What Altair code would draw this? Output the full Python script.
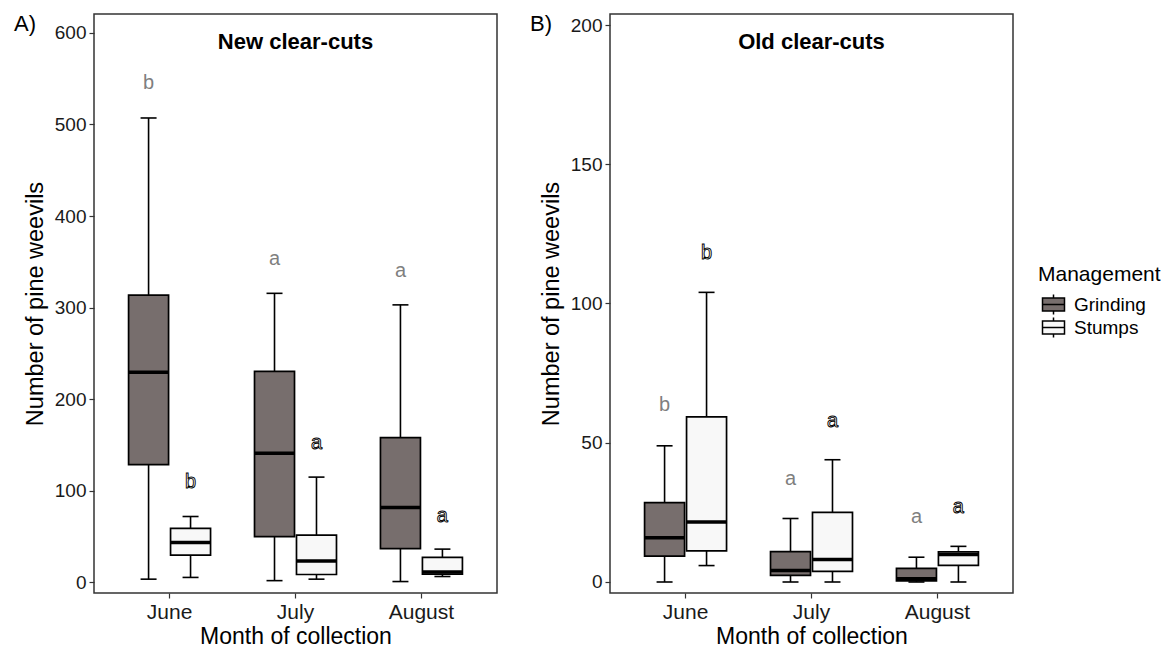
import altair as alt
import pandas as pd

months = ["June", "July", "August"]
managements = ["Grinding", "Stumps"]

# Panel A: New clear-cuts (box statistics)
a_grind_min = [3.6, 2.0, 1.0]
a_grind_q1 = [128.7, 50.0, 37.0]
a_grind_med = [229.5, 141.0, 81.8]
a_grind_q3 = [313.7, 230.5, 158.0]
a_grind_max = [507.0, 315.6, 303.0]
a_stump_min = [5.5, 3.6, 6.5]
a_stump_q1 = [29.8, 8.7, 9.0]
a_stump_med = [43.6, 23.3, 11.3]
a_stump_q3 = [59.0, 51.6, 27.3]
a_stump_max = [72.0, 115.0, 36.4]
a_grind_letters = ["b", "a", "a"]
a_grind_letter_y = [545, 353, 340]
a_stump_letters = ["b", "a", "a"]
a_stump_letter_y = [110, 152, 73]

# Panel B: Old clear-cuts
b_grind_min = [0.0, 0.0, 0.0]
b_grind_q1 = [9.3, 2.4, 0.4]
b_grind_med = [15.9, 4.1, 1.2]
b_grind_q3 = [28.5, 10.9, 4.9]
b_grind_max = [48.9, 22.8, 8.9]
b_stump_min = [5.9, 0.0, 0.0]
b_stump_q1 = [11.2, 3.8, 6.0]
b_stump_med = [21.5, 8.1, 9.9]
b_stump_q3 = [59.3, 25.0, 10.8]
b_stump_max = [104.0, 43.9, 12.8]
b_grind_letters = ["b", "a", "a"]
b_grind_letter_y = [63.4, 37.0, 23.2]
b_stump_letters = ["b", "a", "a"]
b_stump_letter_y = [118.3, 57.9, 27.0]

colors = ["#776E6D", "#F8F8F8"]
FONT = "Liberation Sans"


def stats_frame(gmin, gq1, gmed, gq3, gmax, smin, sq1, smed, sq3, smax):
    rows = []
    for i, m in enumerate(months):
        rows.append(dict(Month=m, Management="Grinding", lo=gmin[i], q1=gq1[i],
                         med=gmed[i], q3=gq3[i], hi=gmax[i]))
        rows.append(dict(Month=m, Management="Stumps", lo=smin[i], q1=sq1[i],
                         med=smed[i], q3=sq3[i], hi=smax[i]))
    return pd.DataFrame(rows)


def letter_frame(gl, gy, sl, sy):
    rows = []
    for i, m in enumerate(months):
        rows.append(dict(Month=m, Management="Grinding", letter=gl[i], y=gy[i]))
        rows.append(dict(Month=m, Management="Stumps", letter=sl[i], y=sy[i]))
    return pd.DataFrame(rows)


def panel(stats, letters, domain, ticks, title, tag):
    x = alt.X("Month:N", sort=months,
              scale=alt.Scale(domain=months, paddingInner=0, paddingOuter=0.1),
              axis=alt.Axis(title="Month of collection", labelAngle=0))
    xo = alt.XOffset("Management:N",
                     scale=alt.Scale(domain=managements, paddingInner=0, paddingOuter=0.5))
    yscale = alt.Scale(domain=domain, nice=False, zero=False)
    yaxis = alt.Axis(title="Number of pine weevils", values=ticks)

    base = alt.Chart(stats)
    whisker = base.mark_rule(color="black", strokeWidth=1.6).encode(
        x=x, xOffset=xo, y=alt.Y("lo:Q", scale=yscale, axis=yaxis), y2="hi:Q")
    caps_lo = base.mark_tick(color="black", size=16, thickness=1.6, opacity=1).encode(
        x=x, xOffset=xo, y="lo:Q")
    caps_hi = base.mark_tick(color="black", size=16, thickness=1.6, opacity=1).encode(
        x=x, xOffset=xo, y="hi:Q")
    box = base.mark_bar(width=40, stroke="black", strokeWidth=1.7, opacity=1).encode(
        x=x, xOffset=xo, y="q1:Q", y2="q3:Q",
        color=alt.Color("Management:N",
                        scale=alt.Scale(domain=managements, range=colors),
                        legend=alt.Legend(
                            title="Management",
                            symbolType="M-1,-1.32H3.4V1.32H-1Z M-1,0H3.4 M1.2,-1.32V-2 M1.2,1.32V2",
                            symbolStrokeColor="black", symbolStrokeWidth=1.5,
                            symbolSize=100, symbolOpacity=1,
                            orient="none", legendX=944, legendY=250)))
    median = base.mark_tick(color="black", size=40, thickness=3.5, opacity=1).encode(
        x=x, xOffset=xo, y="med:Q")

    lt = alt.Chart(letters)
    g_letters = lt.transform_filter(alt.datum.Management == "Grinding").mark_text(
        fontSize=20, font=FONT, color="#7F7F7F", baseline="middle", opacity=1).encode(
        x=x, xOffset=xo, y="y:Q", text="letter:N")
    s_letters = lt.transform_filter(alt.datum.Management == "Stumps").mark_text(
        fontSize=20, font=FONT, color="white", fill="white", stroke="black",
        strokeWidth=0.9, baseline="middle", opacity=1).encode(
        x=x, xOffset=xo, y="y:Q", text="letter:N")

    tag_layer = alt.Chart(pd.DataFrame({"t": [tag]})).mark_text(
        fontSize=22, font=FONT, align="left", baseline="top", color="black").encode(
        text="t:N", x=alt.value(-80), y=alt.value(0))
    title_layer = alt.Chart(pd.DataFrame({"t": [title]})).mark_text(
        fontSize=22, font=FONT, fontWeight="bold", align="center",
        baseline="alphabetic", color="black").encode(
        text="t:N", x=alt.value(201.5), y=alt.value(35))

    return alt.layer(whisker, caps_lo, caps_hi, box, median, g_letters, s_letters,
                     tag_layer, title_layer).properties(width=403, height=579)


statsA = stats_frame(a_grind_min, a_grind_q1, a_grind_med, a_grind_q3, a_grind_max,
                     a_stump_min, a_stump_q1, a_stump_med, a_stump_q3, a_stump_max)
statsB = stats_frame(b_grind_min, b_grind_q1, b_grind_med, b_grind_q3, b_grind_max,
                     b_stump_min, b_stump_q1, b_stump_med, b_stump_q3, b_stump_max)
lettersA = letter_frame(a_grind_letters, a_grind_letter_y, a_stump_letters, a_stump_letter_y)
lettersB = letter_frame(b_grind_letters, b_grind_letter_y, b_stump_letters, b_stump_letter_y)

pA = panel(statsA, lettersA, [-11.5, 620.5], [0, 100, 200, 300, 400, 500, 600],
           "New clear-cuts", "A)")
pB = panel(statsB, lettersB, [-3.95, 203.95], [0, 50, 100, 150, 200],
           "Old clear-cuts", "B)")

chart = alt.hconcat(pA, pB, spacing=31).resolve_scale(y="independent").configure(
    padding={"left": 5, "top": 4, "right": 0, "bottom": 0},
    font=FONT,
).configure_view(
    stroke="#333333", strokeWidth=1.5
).configure_axis(
    grid=False, domain=False, tickColor="#333333", tickSize=5, tickWidth=1.2,
    labelFont=FONT, titleFont=FONT, labelColor="#1A1A1A", titleColor="black",
    titleFontWeight="normal", labelPadding=3,
).configure_axisY(
    labelFontSize=19, titleFontSize=23.5, titlePadding=7,
).configure_axisX(
    labelFontSize=21, titleFontSize=23, titlePadding=3,
).configure_legend(
    titleFont=FONT, labelFont=FONT, titleFontSize=21, labelFontSize=19,
    titleFontWeight="normal", titleColor="black", labelColor="black",
    rowPadding=-6, labelOffset=17, titlePadding=10,
)

chart.save("out.html", embed_options={"renderer": "svg", "actions": False})
